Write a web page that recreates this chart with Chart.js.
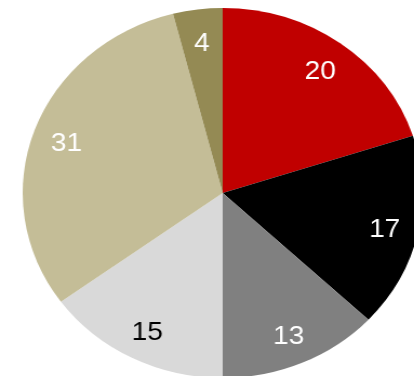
<!DOCTYPE html>
<html>
<head>
<meta charset="utf-8">
<script src="https://cdn.jsdelivr.net/npm/chart.js@4/dist/chart.umd.min.js"></script>
<style>
  html, body { margin: 0; padding: 0; width: 414px; height: 376px; overflow: hidden; background: #ffffff; }
  #wrap { position: absolute; left: 0; top: 0; width: 412px; height: 386px; transform: scaleX(1.081); transform-origin: 0 0; }
</style>
</head>
<body>
<div id="wrap"><canvas id="c" width="412" height="386"></canvas></div>
<script>
const categories = ["A", "B", "C", "D", "E", "F"];
const values = [20, 17, 13, 15, 31, 4];
const sliceColors = ["#C00000", "#000000", "#808080", "#D9D9D9", "#C4BD97", "#948A54"];
const labelColors = ["#FFFFFF", "#FFFFFF", "#FFFFFF", "#000000", "#FFFFFF", "#FFFFFF"];

const sliceLabels = {
  id: "sliceLabels",
  afterDatasetsDraw(chart) {
    const ctx = chart.ctx;
    const meta = chart.getDatasetMeta(0);
    ctx.save();
    ctx.font = "26px 'Liberation Sans', Arial, sans-serif";
    ctx.textAlign = "center";
    ctx.textBaseline = "middle";
    meta.data.forEach((arc, i) => {
      const p = arc.getProps(["x", "y", "startAngle", "endAngle", "outerRadius"], true);
      const mid = (p.startAngle + p.endAngle) / 2;
      const r = p.outerRadius * 0.83;
      ctx.fillStyle = labelColors[i];
      ctx.fillText(String(values[i]), p.x + Math.cos(mid) * r, p.y + Math.sin(mid) * r + 3);
    });
    ctx.restore();
  }
};

new Chart(document.getElementById("c"), {
  type: "pie",
  data: {
    labels: categories,
    datasets: [{
      data: values,
      backgroundColor: sliceColors,
      borderWidth: 0
    }]
  },
  options: {
    responsive: false,
    animation: false,
    layout: { padding: { left: 21, right: 21, top: 8, bottom: 8 } },
    plugins: {
      legend: { display: false },
      tooltip: { enabled: false }
    },
    events: []
  },
  plugins: [sliceLabels]
});
</script>
</body>
</html>
